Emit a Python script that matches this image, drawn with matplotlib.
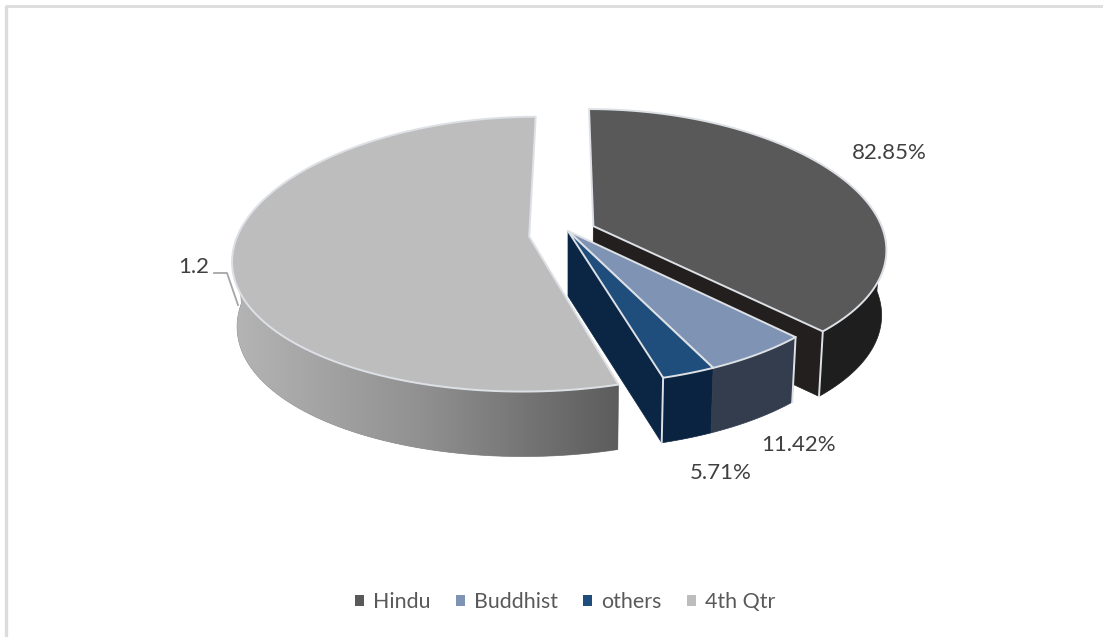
import numpy as np
import matplotlib
matplotlib.use('Agg')
import matplotlib.pyplot as plt
from matplotlib.colors import LinearSegmentedColormap
from matplotlib.patches import Polygon, Rectangle

# series
categories = ['Hindu', 'Buddhist', 'others', '4th Qtr']
values = [0.8285, 0.1142, 0.0571, 1.2]
labels = ['82.85%', '11.42%', '5.71%', '1.2']

# how far each slice is pulled out of the pie, sideways and towards the front
explode_u = [0.088, 0.0, 0.0, -0.133]
explode_v = [-0.036, 0.0, 0.0, 0.04]

top_colors = ['#595959', '#7f93b4', '#1f4e7c', '#bdbdbd']
side_colors = ['#1e1e1e', '#333d4e', '#0a2340', '#8a8a8a']
cut_colors = ['#221f1e', '#333d4e', '#0b2644', '#8a8a8a']
edge_color = '#dde1e6'
text_color = '#404040'

plt.rcParams['font.family'] = ['Lato', 'DejaVu Sans']

# pie geometry, in pixels of the figure
cx, cy = 568, 231
rx, ry = 290, 136
persp_x, persp_y = 0.17, 0.13
depth = 65

angles = np.cumsum([0] + values) / sum(values) * 2 * np.pi


def project(u, v, lower=False):
    # flat disk coordinates to screen, the front of the disk comes out bigger
    x = rx * u * (1 + persp_x * v)
    y = ry * v * (1 + persp_y * v)
    if lower:
        return cx + x * 0.985, cy + y + depth
    return cx + x, cy + y


def slice_points(i, lower=False):
    ou, ov = explode_u[i], explode_v[i]
    t = np.linspace(angles[i], angles[i + 1], 120)
    arc = project(ou + np.sin(t), ov - np.cos(t), lower)
    apex = project(ou, ov, lower)
    return np.array(apex), np.column_stack(arc), t


fig = plt.figure(figsize=(11.03, 6.37), dpi=100)
ax = fig.add_axes([0, 0, 1, 1])

# chart frame, only the top and left show
ax.plot([6, 6], [637, 6], color='#dcdcdc', lw=2.4, solid_capstyle='butt')
ax.plot([5, 1103], [6, 6], color='#dcdcdc', lw=2.0, solid_capstyle='butt')


def draw_side(i, z):
    # only the front half of the rim can be seen
    _, up, t = slice_points(i)
    _, low, _ = slice_points(i, True)
    front = np.cos(t) < 0
    poly = np.vstack([up[front], low[front][::-1]])
    ax.add_patch(Polygon(poly, closed=True, fc=side_colors[i], ec=side_colors[i], lw=0.5, zorder=z))
    return poly


def draw_cut(i, end, z):
    apex, up, _ = slice_points(i)
    apex2, low, _ = slice_points(i, True)
    p = up[end]
    q = low[end]
    ax.add_patch(Polygon([apex, p, q, apex2], closed=True, fc=cut_colors[i], ec=cut_colors[i], lw=0.5, zorder=z))


def draw_top(i, z):
    apex, up, _ = slice_points(i)
    ax.add_patch(Polygon(np.vstack([apex, up]), closed=True, fc=top_colors[i], ec=edge_color, lw=1.4,
                         joinstyle='round', zorder=z))


def draw_corner(i, end, z):
    _, up, _ = slice_points(i)
    _, low, _ = slice_points(i, True)
    ax.plot([up[end, 0], low[end, 0]], [up[end, 1], low[end, 1]], color=edge_color, lw=1.4, zorder=z)


# 4th Qtr, the side fades from light on the left to dark at the cut
poly = draw_side(3, 2)
shade = LinearSegmentedColormap.from_list('shade', ['#b4b4b4', '#8f8f8f', '#5c5c5c'])
im = ax.imshow(np.linspace(0, 1, 256).reshape(1, -1), cmap=shade, aspect='auto',
               extent=(236, 620, 475, 250), zorder=3)
im.set_clip_path(Polygon(poly, closed=True, transform=ax.transData))
draw_top(3, 4)

# Hindu
draw_cut(0, -1, 5)
draw_side(0, 6)
draw_corner(0, -1, 7)
draw_top(0, 8)

# others and Buddhist stay together in the middle
draw_cut(2, -1, 9)
draw_side(2, 10)
draw_side(1, 11)
draw_corner(2, -1, 12)
draw_corner(1, 0, 12)
draw_top(1, 13)
draw_top(2, 14)

# data labels
label_pos = [(889, 153), (799, 445), (721, 473), (194, 267)]
for lab, (x, y) in zip(labels, label_pos):
    ax.text(x, y, lab, ha='center', va='center', fontsize=16, color=text_color, zorder=20)

# leader line for the 1.2 label
ax.plot([214, 227, 238], [273, 273, 305], color='#a6a6a6', lw=1.3, zorder=15)

handles = [Rectangle((0, 0), 1, 1, fc=c, ec='none') for c in top_colors]
ax.legend(handles, categories, ncols=4, loc='center', bbox_to_anchor=(565, 602), bbox_transform=ax.transData,
          frameon=False, fontsize=15.4, labelcolor='#595959', handlelength=0.42, handleheight=0.42,
          handletextpad=0.41, columnspacing=1.2, borderpad=0, borderaxespad=0)

ax.set_xlim(0, 1103)
ax.set_ylim(637, 0)
ax.axis('off')

fig.savefig('out.png', dpi=100, facecolor='white')
